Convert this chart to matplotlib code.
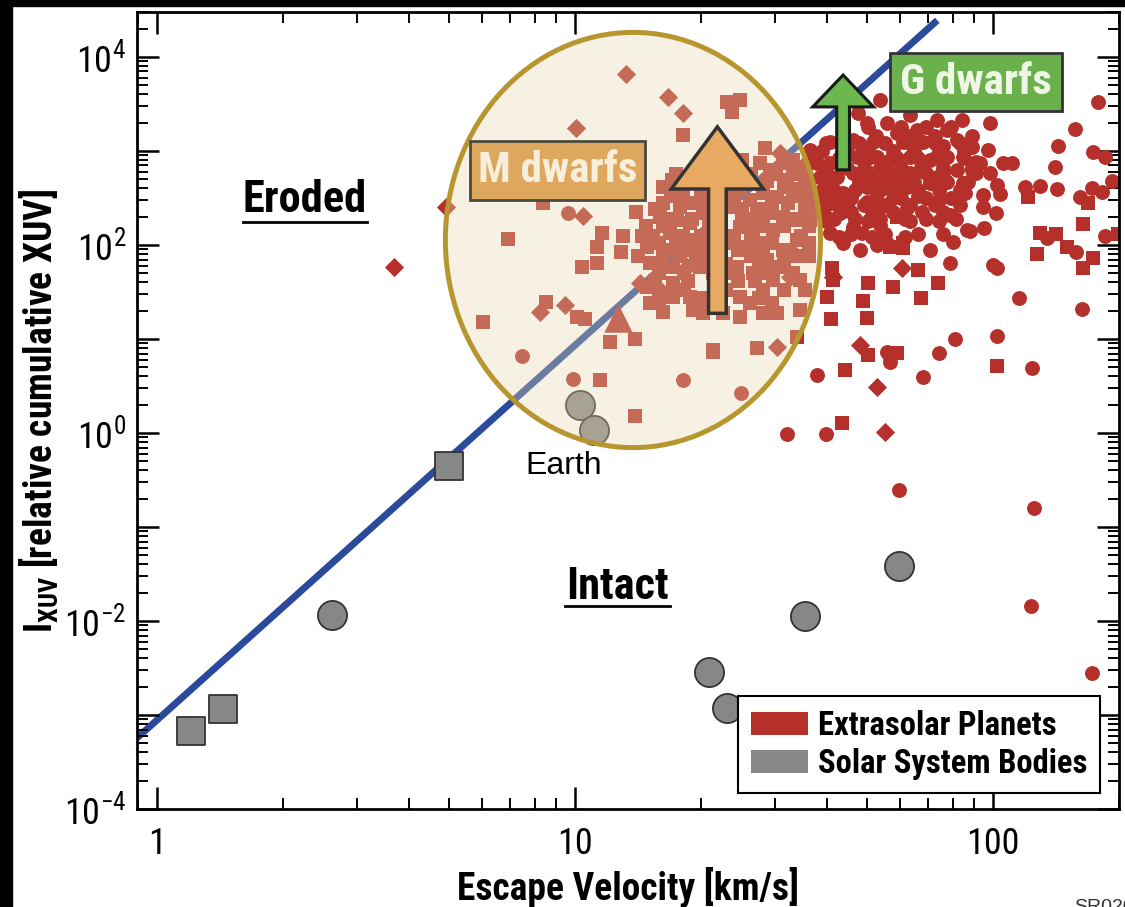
import matplotlib
matplotlib.use("Agg")
import matplotlib.pyplot as plt
import numpy as np
from matplotlib import font_manager as fm
from matplotlib.lines import Line2D
from matplotlib.patches import Ellipse, FancyArrow, Patch, Rectangle
from matplotlib.ticker import FuncFormatter, LogLocator, NullFormatter

# pick a condensed sans face if one is installed
FONT = "DejaVu Sans"
for f in fm.fontManager.ttflist:
    if f.name in ("Liberation Sans Narrow", "Roboto Condensed", "Open Sans Condensed"):
        FONT = f.name
        break
else:
    for fam in ("Noto Sans", "Open Sans", "Roboto", "DejaVu Sans"):
        if any(f.name == fam and f.stretch == "condensed" for f in fm.fontManager.ttflist):
            FONT = fam
            break

plt.rcParams["font.family"] = [FONT, "DejaVu Sans"]
plt.rcParams["font.stretch"] = "condensed"
plt.rcParams["mathtext.fontset"] = "custom"
plt.rcParams["mathtext.rm"] = f"{FONT}:stretch=condensed"
plt.rcParams["mathtext.bf"] = f"{FONT}:weight=bold:stretch=condensed"

# values, as log10(v_esc [km/s]) and log10(I_XUV)
circle_logv = [
    0.983, 0.873, 0.995, 1.258, 1.397,
    1.730, 1.677, 1.699, 1.746, 1.770, 1.818, 1.866, 1.890, 1.926,
    1.610, 1.562, 1.665, 1.713, 1.785, 1.833, 1.914,
    1.579, 1.610, 1.675, 1.722, 1.754, 1.801, 1.849, 1.890, 1.928,
    1.586, 1.627, 1.665, 1.706, 1.746, 1.785, 1.825, 1.866, 1.914,
    1.593, 1.641, 1.699, 1.746, 1.794, 1.849, 1.928,
    1.617, 1.699, 1.730, 1.794, 1.634, 1.897,
    1.665, 1.730, 1.610, 1.687, 1.641, 1.746, 1.849, 1.904, 1.938, 1.682, 1.897,
    1.550, 1.560, 1.570, 1.580, 1.600, 1.650, 1.760, 1.820, 1.870, 1.960, 1.880, 1.800,
    1.64, 1.72, 1.80, 1.86, 1.95,
    1.59, 1.65, 1.70, 1.76, 1.81, 1.87, 1.93,
    1.55, 1.60, 1.65, 1.69, 1.73, 1.78, 1.83, 1.88, 1.95,
    1.56, 1.61, 1.68, 1.72, 1.77, 1.81, 1.85, 1.89, 1.94,
    1.56, 1.60, 1.66, 1.72, 1.78, 1.84, 1.90,
    1.58, 1.66, 1.71, 1.76, 1.83, 1.88,
    1.60, 1.70, 1.80, 1.87,
    1.63, 1.71, 1.79,
    1.70, 1.78, 1.84, 1.90,
    1.60, 1.68, 1.74, 1.80, 1.86, 1.92,
    1.56, 1.63, 1.70, 1.77, 1.82, 1.86, 1.93,
    1.55, 1.60, 1.69, 1.75, 1.80, 1.84, 1.88, 1.96,
    1.55, 1.62, 1.67, 1.73, 1.77, 1.82, 1.87, 1.92,
    1.60, 1.64, 1.69, 1.74, 1.80, 1.86, 1.92,
    1.62, 1.67, 1.73, 1.79, 1.84, 1.91,
    1.66, 1.74, 1.82, 1.88,
    2.251, 1.993, 2.196, 2.156, 1.950, 1.988, 2.239, 2.268, 1.969, 2.024, 2.045,
    2.148, 1.993, 1.950, 2.285, 2.010, 2.077, 2.112, 2.153, 2.237, 2.261, 1.933,
    1.976, 2.017, 2.208, 1.976, 2.007, 1.945, 1.978, 2.129, 2.268, 2.199, 2.000,
    2.010, 2.062, 2.213, 2.010, 2.093,
    1.909, 1.871, 1.833, 1.579, 1.754, 1.746, 1.507, 1.600, 1.775, 2.098, 2.091,
    2.237, 1.722, 1.754,
]
circle_logi = [
    2.34, 0.82, 0.57, 0.56, 0.43,
    3.54, 3.40, 3.30, 3.30, 3.19, 3.22, 3.33, 3.22, 3.33,
    3.09, 3.01, 3.12, 3.09, 3.09, 3.09, 3.12,
    2.87, 2.87, 2.94, 2.94, 2.90, 2.94, 2.90, 2.94, 2.94,
    2.72, 2.72, 2.77, 2.77, 2.72, 2.77, 2.80, 2.72, 2.80,
    2.59, 2.55, 2.62, 2.62, 2.62, 2.66, 2.66,
    2.45, 2.46, 2.40, 2.39, 2.34, 2.32,
    2.19, 2.21, 2.13, 2.13, 2.02, 2.02, 1.95, 2.03, 2.16, 1.95, 1.81,
    2.85, 2.70, 2.55, 2.40, 2.30, 2.45, 2.50, 2.52, 2.48, 2.88, 3.05, 3.38,
    3.16, 3.16, 3.16, 3.16, 3.16,
    3.00, 3.00, 3.00, 3.00, 3.00, 3.00, 3.00,
    2.82, 2.82, 2.82, 2.82, 2.82, 2.82, 2.82, 2.82, 2.82,
    2.67, 2.67, 2.67, 2.67, 2.67, 2.67, 2.67, 2.67, 2.67,
    2.50, 2.50, 2.50, 2.50, 2.50, 2.50, 2.50,
    2.35, 2.35, 2.35, 2.35, 2.35, 2.35,
    2.25, 2.25, 2.25, 2.25,
    2.08, 2.08, 2.08,
    3.25, 3.25, 3.25, 3.25,
    3.08, 3.08, 3.08, 3.08, 3.08, 3.08,
    2.92, 2.92, 2.92, 2.92, 2.92, 2.92, 2.92,
    2.76, 2.76, 2.76, 2.76, 2.76, 2.76, 2.76, 2.76,
    2.58, 2.58, 2.58, 2.58, 2.58, 2.58, 2.58, 2.58,
    2.42, 2.42, 2.42, 2.42, 2.42, 2.42, 2.42,
    2.28, 2.28, 2.28, 2.28, 2.28, 2.28,
    2.12, 2.12, 2.12, 2.12,
    3.52, 3.30, 3.23, 3.05, 3.04, 3.01, 2.99, 2.94, 2.87, 2.87, 2.87,
    2.83, 2.77, 2.80, 2.68, 2.64, 2.62, 2.63, 2.60, 2.61, 2.56, 2.55,
    2.53, 2.54, 2.51, 2.40, 2.34, 2.15, 2.18, 2.07, 2.10, 1.93, 1.79,
    1.76, 1.44, 1.32, 1.03, 0.69,
    1.00, 0.85, 0.60, 0.62, 0.81, 0.86, -0.01, -0.01, -0.61, -0.80, -1.84,
    -2.55, 2.00, 0.76,
]

square_logv = [
    0.840, 0.923, 1.146, 1.065, 1.115, 1.053, 1.110, 1.017, 1.053, 0.780,
    0.931, 1.005, 1.024, 1.084, 1.144, 1.060, 1.144, 1.330, 1.435,
    1.364, 1.395, 1.376, 1.258, 1.455,
    1.232, 1.258, 1.292, 1.211, 1.251, 1.282, 1.203, 1.244, 1.275, 1.306,
    1.187, 1.227, 1.258, 1.292, 1.172, 1.211, 1.275, 1.299, 1.179, 1.234,
    1.299, 1.172, 1.234, 1.234, 1.275, 1.282, 1.306, 1.211, 1.330,
    1.395, 1.395, 1.378, 1.419, 1.443, 1.467, 1.498, 1.507, 1.538, 1.531,
    1.555, 1.419, 1.450, 1.483, 1.435, 1.467, 1.498, 1.531, 1.562, 1.395,
    1.426, 1.474, 1.378, 1.411, 1.531, 1.498, 1.459, 1.490, 1.388, 1.426,
    1.474, 1.538, 1.395, 1.419, 1.354, 1.395, 1.450, 1.483, 1.531, 1.538,
    1.24, 1.30, 1.42, 1.48, 1.52,
    1.21, 1.34, 1.45, 1.50, 1.56,
    1.23, 1.30, 1.38, 1.52,
    1.19, 1.31, 1.40, 1.45, 1.55,
    1.17, 1.21, 1.32, 1.45, 1.50, 1.56,
    1.20, 1.24, 1.33, 1.44, 1.47, 1.56,
    1.15, 1.25, 1.35, 1.42, 1.53, 1.56,
    1.20, 1.26, 1.33, 1.38, 1.46, 1.52,
    1.26, 1.36, 1.45, 1.50, 1.55,
    1.18, 1.30, 1.47,
    1.40, 1.52,
    1.27, 1.36, 1.46, 1.55,
    1.26, 1.34, 1.47, 1.51, 1.58,
    1.22, 1.28, 1.40, 1.43, 1.53,
    1.16, 1.30, 1.38, 1.42, 1.54,
    1.23, 1.31, 1.39, 1.45, 1.51,
    1.21, 1.29, 1.36, 1.44, 1.50,
    1.19, 1.27, 1.39, 1.43,
    1.20, 1.30, 1.44,
    2.084, 2.227, 2.215, 2.112, 2.151, 2.177, 2.299, 2.105, 2.239, 2.215, 2.010,
    1.701, 1.761, 1.828, 1.868, 1.689, 1.612, 1.699, 1.646, 1.639, 1.770,
    1.603, 1.615, 1.617, 1.821, 1.754, 1.785, 1.770, 1.785, 1.701,
]
square_logi = [
    2.06, 2.45, 2.35, 2.13, 2.09, 1.98, 1.93, 1.77, 1.81, 1.18,
    1.39, 1.23, 1.21, 0.97, 1.00, 0.56, 0.18, 0.86, 0.90,
    3.52, 3.54, 3.41, 3.17, 3.03,
    2.69, 2.59, 2.66, 2.45, 2.40, 2.45, 2.30, 2.27, 2.23, 2.34,
    2.09, 2.13, 2.09, 2.05, 1.98, 1.95, 1.95, 1.91, 1.81, 1.77,
    1.77, 1.55, 1.60, 1.45, 1.45, 1.31, 1.28, 1.29, 0.88,
    2.80, 2.59, 2.40, 2.69, 2.87, 2.80, 2.87, 2.69, 2.77, 2.59,
    2.51, 2.48, 2.55, 2.51, 2.34, 2.34, 2.30, 2.27, 2.27, 2.19,
    2.16, 2.16, 2.02, 1.98, 2.05, 1.95, 1.84, 1.77, 1.77, 1.70,
    1.63, 1.63, 1.45, 1.38, 1.28, 1.23, 1.28, 1.28, 1.02, 1.31,
    2.75, 2.75, 2.75, 2.75, 2.75,
    2.62, 2.62, 2.62, 2.62, 2.62,
    2.52, 2.52, 2.52, 2.52,
    2.38, 2.38, 2.38, 2.38, 2.38,
    2.20, 2.20, 2.20, 2.20, 2.20, 2.20,
    2.02, 2.02, 2.02, 2.02, 2.02, 2.02,
    1.88, 1.88, 1.88, 1.88, 1.88, 1.88,
    1.70, 1.70, 1.70, 1.70, 1.70, 1.70,
    1.52, 1.52, 1.52, 1.52, 1.52,
    1.38, 1.38, 1.38,
    2.90, 2.90,
    2.68, 2.68, 2.68, 2.68,
    2.45, 2.45, 2.45, 2.45, 2.45,
    2.28, 2.28, 2.28, 2.28, 2.28,
    2.10, 2.10, 2.10, 2.10, 2.10,
    1.95, 1.95, 1.95, 1.95, 1.95,
    1.80, 1.80, 1.80, 1.80, 1.80,
    1.62, 1.62, 1.62, 1.62,
    1.44, 1.44, 1.44,
    2.51, 2.45, 2.22, 2.13, 2.12, 1.98, 2.12, 1.90, 1.86, 1.76, 0.71,
    1.60, 1.55, 1.44, 1.60, 1.40, 1.21, 1.22, 0.67, 0.11, 0.85,
    1.45, 1.76, 1.63, 1.73, 1.98, 1.97, 2.30, 2.02, 0.83,
]

diamond_logv = [
    0.567, 0.691, 1.122, 1.002, 1.019, 0.916, 0.976, 1.156, 1.222, 1.258,
    1.490, 1.483, 1.722, 1.742, 1.782, 1.682, 1.617, 1.268, 1.203, 1.522, 1.514,
]
diamond_logi = [
    1.77, 2.40, 3.82, 3.24, 2.31, 1.29, 1.36, 1.60, 3.57, 3.40,
    2.98, 0.91, 0.49, 0.01, 1.75, 0.94, 1.66, 1.77, 1.52, 1.91, 1.66,
]

triangle_logv = [1.103]
triangle_logi = [1.22]

solar_circle_logv = [0.419, 1.012, 1.045, 1.320, 1.364, 1.550, 1.775]
solar_circle_logi = [-1.94, 0.30, 0.03, -2.54, -2.93, -1.95, -1.415]
solar_square_logv = [0.081, 0.158, 0.699]
solar_square_logi = [-3.17, -2.94, -0.35]

# boundary line, end points
line_v = [0.895, 73.5]
line_i = [5.7e-4, 2.45e4]

RED = "#b5302a"
GRAY = "#878787"
BLUE = "#2b4a9b"


def to_lin(values):
    return 10.0 ** np.asarray(values)


fig = plt.figure(figsize=(11.25, 9.07), dpi=100)
ax = fig.add_axes([0.1218, 0.1080, 0.8729, 0.8787])
ax.set_xscale("log")
ax.set_yscale("log")
ax.set_xlim(0.895, 200)
ax.set_ylim(1e-4, 3.0e4)

ax.plot(line_v, line_i, color=BLUE, lw=5, solid_capstyle="butt", zorder=1)

ax.scatter(to_lin(circle_logv), to_lin(circle_logi), s=115, marker="o", color=RED, lw=0, zorder=2)
ax.scatter(to_lin(square_logv), to_lin(square_logi), s=90, marker="s", color=RED, lw=0, zorder=2)
ax.scatter(to_lin(diamond_logv), to_lin(diamond_logi), s=95, marker="D", color=RED, lw=0, zorder=2)
ax.scatter(to_lin(triangle_logv), to_lin(triangle_logi), s=420, marker="^", color=RED, lw=0, zorder=2)

ax.scatter(to_lin(solar_circle_logv), to_lin(solar_circle_logi), s=440, marker="o",
           facecolor=GRAY, edgecolor="#333333", lw=1.3, zorder=3)
ax.scatter(to_lin(solar_square_logv), to_lin(solar_square_logi), s=420, marker="s",
           facecolor=GRAY, edgecolor="#333333", lw=1.3, zorder=3)

# M dwarf region
ax.add_patch(Ellipse((0.505, 0.714), 0.382, 0.521, transform=ax.transAxes,
                     facecolor=(232 / 255, 215 / 255, 175 / 255, 0.35),
                     edgecolor="#b8962f", lw=3.6, zorder=4))

ax.add_patch(FancyArrow(0.591, 0.622, 0, 0.234, width=0.018, head_width=0.094,
                        head_length=0.078, length_includes_head=True,
                        transform=ax.transAxes, facecolor="#e8aa63",
                        edgecolor="#333333", lw=2.5, zorder=5))
ax.add_patch(FancyArrow(0.719, 0.802, 0, 0.119, width=0.013, head_width=0.062,
                        head_length=0.040, length_includes_head=True,
                        transform=ax.transAxes, facecolor="#6cb84e",
                        edgecolor="#1a1a1a", lw=2.2, zorder=5))

ax.add_patch(Rectangle((0.339, 0.764), 0.178, 0.074, transform=ax.transAxes,
                       facecolor="#dea75e", edgecolor="#4a4a40", lw=2, zorder=6))
ax.text(0.428, 0.801, "M dwarfs", transform=ax.transAxes, ha="center", va="center",
        fontsize=31, fontweight="bold", color="#f7efdc", zorder=7)
ax.add_patch(Rectangle((0.767, 0.876), 0.175, 0.073, transform=ax.transAxes,
                       facecolor="#6ab04c", edgecolor="#333333", lw=2, zorder=6))
ax.text(0.854, 0.912, "G dwarfs", transform=ax.transAxes, ha="center", va="center",
        fontsize=31, fontweight="bold", color="#eef7e6", zorder=7)

ax.text(0.171, 0.764, "Eroded", transform=ax.transAxes, ha="center", va="center",
        fontsize=32, fontweight="bold", zorder=7)
ax.add_line(Line2D([0.108, 0.234], [0.736, 0.736], transform=ax.transAxes, color="black", lw=2))
ax.text(0.489, 0.279, "Intact", transform=ax.transAxes, ha="center", va="center",
        fontsize=32, fontweight="bold", zorder=7)
ax.add_line(Line2D([0.436, 0.543], [0.255, 0.255], transform=ax.transAxes, color="black", lw=2))
ax.text(0.434, 0.430, "Earth", transform=ax.transAxes, ha="center", va="center",
        fontsize=23, family=["Liberation Sans", "DejaVu Sans"], stretch="normal", zorder=7)

# axes, ticks
ax.xaxis.set_major_locator(LogLocator(base=10, numticks=10))
ax.xaxis.set_minor_locator(LogLocator(base=10, subs=np.arange(2, 10), numticks=20))
ax.xaxis.set_minor_formatter(NullFormatter())
ax.xaxis.set_major_formatter(FuncFormatter(lambda v, _: f"{v:g}"))
ax.yaxis.set_major_locator(LogLocator(base=10, numticks=20))
ax.yaxis.set_minor_locator(LogLocator(base=10, subs=np.arange(2, 10), numticks=40))
ax.yaxis.set_minor_formatter(NullFormatter())


def ylabel_fmt(v, _):
    e = int(round(np.log10(v)))
    return rf"10$^{{{e}}}$" if e % 2 == 0 else ""


ax.yaxis.set_major_formatter(FuncFormatter(ylabel_fmt))
ax.tick_params(which="both", direction="in", top=True, right=True, labelsize=26)
ax.tick_params(which="major", length=16, width=1.8, pad=8)
ax.tick_params(which="minor", length=8, width=1.4)
ax.tick_params(axis="x", which="major", pad=12)
for sp in ax.spines.values():
    sp.set_linewidth(2)

ax.set_xlabel("Escape Velocity [km/s]", fontsize=27, fontweight="bold", labelpad=4)
ax.set_ylabel(r"I$_{\mathbf{XUV}}$ [relative cumulative XUV]", fontsize=27,
              fontweight="bold", labelpad=2)

handles = [Patch(facecolor=RED, edgecolor="none", label="Extrasolar Planets"),
           Patch(facecolor=GRAY, edgecolor="none", label="Solar System Bodies")]
leg = ax.legend(handles=handles, loc="lower right", bbox_to_anchor=(0.981, 0.020),
                borderaxespad=0, fancybox=False, framealpha=1, edgecolor="black",
                prop={"family": [FONT, "DejaVu Sans"], "weight": "bold", "size": 23.5,
                      "stretch": "condensed"},
                handlelength=1.75, handleheight=0.7, handletextpad=0.3,
                labelspacing=0.2, borderpad=0.4)
leg.get_frame().set_linewidth(1.5)
leg.set_zorder(8)

# black strips along the top and left edges
fig.patches.append(Rectangle((0, 1 - 6 / 907), 1, 6 / 907, transform=fig.transFigure,
                             color="black", zorder=10))
fig.patches.append(Rectangle((0, 0), 12 / 1125, 1, transform=fig.transFigure,
                             color="black", zorder=10))
fig.text(0.955, 0.0, "SR020", fontsize=14, va="center", color="#333333",
         family=["Liberation Sans", "DejaVu Sans"], stretch="normal")

fig.savefig("out.png", dpi=100)
